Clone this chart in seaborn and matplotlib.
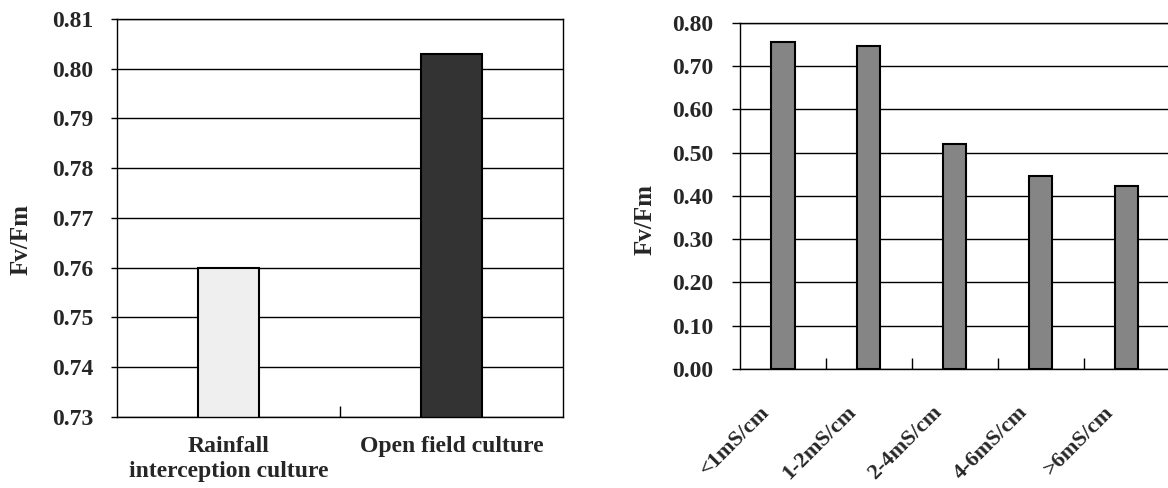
import matplotlib
matplotlib.use("Agg")
import matplotlib.pyplot as plt
import matplotlib.transforms as mtransforms
import seaborn as sns
import numpy as np

# left panel data
culture = ["Rainfall\ninterception culture", "Open field culture"]
culture_fvfm = [0.760, 0.803]
culture_colors = ["#efefef", "#333333"]

# right panel data
salinity = ["<1mS/cm", "1-2mS/cm", "2-4mS/cm", "4-6mS/cm", ">6mS/cm"]
salinity_fvfm = [0.755, 0.746, 0.520, 0.446, 0.423]

left_yticks = [0.73, 0.74, 0.75, 0.76, 0.77, 0.78, 0.79, 0.80, 0.81]
right_yticks = [0.0, 0.1, 0.2, 0.3, 0.4, 0.5, 0.6, 0.7, 0.8]

sns.set_style("white")
plt.rcParams["font.family"] = ["Liberation Serif", "DejaVu Serif"]
plt.rcParams["font.weight"] = "bold"

fig = plt.figure(figsize=(11.68, 4.88), dpi=100)
ax1 = fig.add_axes([0.1002, 0.1455, 0.3818, 0.8156])
ax2 = fig.add_axes([0.6336, 0.2439, 0.3677, 0.7096])


def style_axes(ax, n, yticks, tick_len, tick_pad):
    ax.set_axisbelow(True)
    ax.yaxis.grid(True, color="black", linewidth=1)
    for s in ax.spines.values():
        s.set_visible(True)
        s.set_color("black")
        s.set_linewidth(1)
    ax.set_yticks(yticks)
    ax.set_yticklabels([f"{v:.2f}" for v in yticks], fontsize=17, fontweight="bold")
    ax.set_ylim(yticks[0], yticks[-1])
    ax.tick_params(axis="y", left=True, direction="out", length=tick_len,
                   width=1, color="black", pad=tick_pad)
    # category boundaries as inward ticks, labels on the centres
    ax.set_xlim(-0.5, n - 0.5)
    ax.set_xticks(np.arange(n - 1) + 0.5)
    ax.set_xticklabels([])
    ax.tick_params(axis="x", which="major", bottom=True, direction="in",
                   length=8, width=1, color="black")
    ax.set_xticks(np.arange(n), minor=True)
    ax.set_xlabel("")
    ax.set_ylabel("Fv/Fm", fontsize=18, fontweight="bold")


sns.barplot(x=culture, y=culture_fvfm, hue=culture, palette=culture_colors,
            legend=False, width=0.27, edgecolor="black", linewidth=1.5,
            saturation=1, ax=ax1)
style_axes(ax1, len(culture), left_yticks, 4.3, 13)
ax1.set_xticklabels(culture, minor=True, fontsize=17, fontweight="bold",
                    linespacing=1.2)
ax1.tick_params(axis="x", which="minor", length=0, pad=14)
ax1.yaxis.set_label_coords(-0.1885, 0.445)

sns.barplot(x=salinity, y=salinity_fvfm, color="#858585", width=0.27,
            edgecolor="black", linewidth=1.5, saturation=1, ax=ax2)
style_axes(ax2, len(salinity), right_yticks, 5.8, 13.7)
ax2.set_xticklabels(salinity, minor=True, fontsize=16, fontweight="bold",
                    rotation=45, ha="right", va="center", rotation_mode="anchor")
ax2.tick_params(axis="x", which="minor", length=0, pad=29)
shift = mtransforms.ScaledTranslation(-0.16, 0, fig.dpi_scale_trans)
for lab in ax2.get_xticklabels(minor=True):
    lab.set_transform(lab.get_transform() + shift)
ax2.yaxis.set_label_coords(-0.1956, 0.433)

fig.savefig("out.png", dpi=100)
